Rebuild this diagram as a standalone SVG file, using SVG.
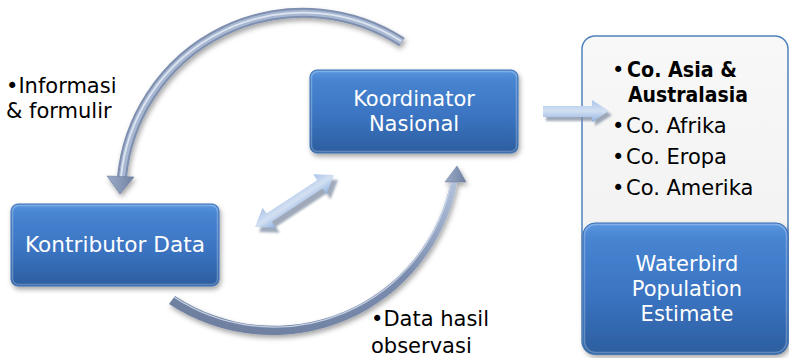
<svg xmlns="http://www.w3.org/2000/svg" width="789" height="358" viewBox="0 0 789 358">
<defs>
  <linearGradient id="gBlue" x1="0" y1="0" x2="0" y2="1">
    <stop offset="0" stop-color="#5a97e0"/>
    <stop offset="0.12" stop-color="#4784d1"/>
    <stop offset="0.55" stop-color="#3b74c2"/>
    <stop offset="1" stop-color="#2c5e9f"/>
  </linearGradient>
  <linearGradient id="gPanel" x1="0" y1="0" x2="0" y2="1">
    <stop offset="0" stop-color="#f8f8f8"/>
    <stop offset="1" stop-color="#efefef"/>
  </linearGradient>
  <linearGradient id="gArrow" x1="0" y1="0" x2="0" y2="1">
    <stop offset="0" stop-color="#a9c4ea"/>
    <stop offset="0.5" stop-color="#d3e0f2"/>
    <stop offset="1" stop-color="#8fb1e0"/>
  </linearGradient>
  <linearGradient id="gBottomArc" x1="0" y1="1" x2="1" y2="0">
    <stop offset="0" stop-color="#6c7d9e"/>
    <stop offset="0.6" stop-color="#7a8cad"/>
    <stop offset="1" stop-color="#b4c3dc"/>
  </linearGradient>
  <linearGradient id="gHead" x1="0" y1="0" x2="1" y2="0">
    <stop offset="0" stop-color="#9aaac6"/>
    <stop offset="0.5" stop-color="#8797b6"/>
    <stop offset="1" stop-color="#6e7fa0"/>
  </linearGradient>
  <filter id="shadow" x="-20%" y="-20%" width="140%" height="150%">
    <feDropShadow dx="1.5" dy="3" stdDeviation="2.5" flood-color="#000" flood-opacity="0.35"/>
  </filter>
  <filter id="soft" x="-20%" y="-20%" width="140%" height="140%">
    <feGaussianBlur stdDeviation="1"/>
  </filter>
</defs>
<style>
  .box { fill: url(#gBlue); stroke: #3b6fb4; stroke-width: 1; filter: url(#shadow); }
  .hl { fill: none; stroke: #ffffff; stroke-opacity: 0.25; stroke-width: 1.5; }
  .wt { font-family: "DejaVu Sans", "Noto Sans", sans-serif; font-size: 21px; fill: #ffffff; text-anchor: middle; }
  .bk { font-family: "DejaVu Sans", "Noto Sans", sans-serif; font-size: 21px; fill: #000000; }
  .bold { font-weight: bold; }
  .blk { fill: url(#gArrow); }
  .blkShadow { fill: #7f8da3; opacity: 0.75; filter: url(#soft); }
</style>

<g id="connectors">
  <g id="arc-top" filter="url(#shadow)">
    <path d="M402,42 A182,182 0 0 0 122,177" fill="none" stroke="#7e8faf" stroke-width="10"/>
    <path d="M402,42 A182,182 0 0 0 122,177" fill="none" stroke="#a9b8d2" stroke-width="6"/>
    <path d="M401,41 A183,183 0 0 0 121,177" fill="none" stroke="#dde5f1" stroke-width="1.8"/>
    <polygon points="107,176 134,177 120,194" fill="url(#gHead)" stroke="#6c7d9d" stroke-width="0.6"/>
  </g>
  <g id="arc-bottom" filter="url(#shadow)">
    <path d="M169,304 A188,188 0 0 0 457.5,181 L451,180 A180,180 0 0 1 175,296 Z" fill="url(#gBottomArc)"/>
    <path d="M451.5,181 A181,181 0 0 1 174,297" fill="none" stroke="#c3cfe3" stroke-width="1.4"/>
    <polygon points="445,182 466,182 457,166" fill="url(#gHead)" stroke="#7283a3" stroke-width="0.6"/>
  </g>
  <g id="arrow-double">
    <polygon class="blkShadow" transform="translate(259,232) rotate(-33.35)" points="0,0 17,-12 17,-5 77.6,-5 77.6,-12 94.6,0 77.6,12 77.6,5 17,5 17,12"/>
    <polygon class="blk" transform="translate(255,227) rotate(-33.35)" points="0,0 17,-12 17,-5 77.6,-5 77.6,-12 94.6,0 77.6,12 77.6,5 17,5 17,12"/>
  </g>
</g>

<g id="node-koordinator">
  <rect class="box" x="310" y="70" width="208" height="83" rx="7"/>
  <rect class="hl" x="311.5" y="71.5" width="205" height="80" rx="6"/>
  <text class="wt"><tspan x="414" y="106">Koordinator</tspan><tspan x="414" y="131">Nasional</tspan></text>
</g>

<g id="node-kontributor">
  <rect class="box" x="11" y="204" width="208" height="82" rx="7"/>
  <rect class="hl" x="12.5" y="205.5" width="205" height="79" rx="6"/>
  <text class="wt" x="115" y="252" textLength="180" lengthAdjust="spacingAndGlyphs">Kontributor Data</text>
</g>

<g id="label-informasi">
  <text class="bk"><tspan x="6" y="93">•Informasi</tspan><tspan x="6" y="118">&amp; formulir</tspan></text>
</g>

<g id="label-data">
  <text class="bk"><tspan x="371" y="326">•Data hasil</tspan><tspan x="371" y="353">observasi</tspan></text>
</g>

<g id="node-coordinators">
  <rect x="582" y="36" width="206" height="318" rx="13" fill="url(#gPanel)" stroke="#4f81bd" stroke-width="1.5"/>
  <text class="bk"><tspan x="612" y="77">•</tspan><tspan class="bold" x="627" y="77" textLength="110" lengthAdjust="spacingAndGlyphs">Co. Asia &amp;</tspan><tspan class="bold" x="628" y="102" textLength="120" lengthAdjust="spacingAndGlyphs">Australasia</tspan><tspan x="612" y="133">•</tspan><tspan x="626" y="133">Co. Afrika</tspan><tspan x="612" y="164">•</tspan><tspan x="626" y="164">Co. Eropa</tspan><tspan x="612" y="195">•</tspan><tspan x="626" y="195">Co. Amerika</tspan></text>
</g>

<g id="node-waterbird">
  <rect class="box" x="583" y="223" width="205" height="131" rx="12"/>
  <rect class="hl" x="584.5" y="224.5" width="202" height="128" rx="11"/>
  <text class="wt"><tspan x="687" y="271">Waterbird</tspan><tspan x="687" y="296">Population</tspan><tspan x="687" y="321">Estimate</tspan></text>
</g>

<g id="arrow-right">
  <polygon class="blkShadow" points="546,110 595,110 595,104 612,115 595,126 595,121 546,121"/>
  <polygon class="blk" points="543,106 592,106 592,100 609,111 592,122 592,117 543,117"/>
</g>
</svg>
